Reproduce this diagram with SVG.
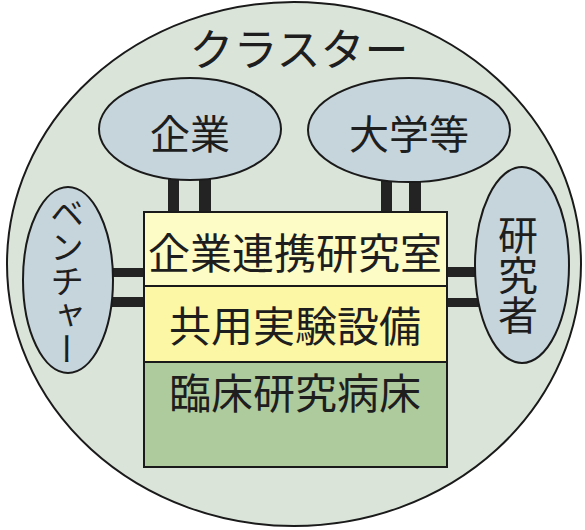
<svg xmlns="http://www.w3.org/2000/svg" width="585" height="530" viewBox="0 0 585 530">
<style>
.t{font-family:"Noto Sans CJK JP","Noto Sans CJK SC",sans-serif;fill:#1e1e1e;text-anchor:middle}
.ov{fill:#c6d5dc;stroke:#1a1a1a;stroke-width:2}
.bar{fill:#232323}
.row{stroke:#1a1a1a;stroke-width:2}
.v{writing-mode:vertical-rl}
</style>
<rect width="585" height="530" fill="#ffffff"/>
<g id="cluster">
<ellipse cx="294" cy="264" rx="287" ry="262" fill="#dae4d9" stroke="#1a1a1a" stroke-width="2"/>
<text class="t" x="299" y="66" font-size="44">クラスター</text>
</g>
<g id="connectors">
<rect class="bar" x="168" y="172" width="11" height="42"/>
<rect class="bar" x="199" y="172" width="12" height="42"/>
<rect class="bar" x="381" y="172" width="11" height="42"/>
<rect class="bar" x="409" y="172" width="12" height="42"/>
<rect class="bar" x="100" y="268" width="46" height="9"/>
<rect class="bar" x="100" y="297" width="46" height="10"/>
<rect class="bar" x="445" y="267" width="42" height="10"/>
<rect class="bar" x="445" y="298" width="42" height="9"/>
</g>
<g id="kigyo">
<ellipse class="ov" cx="190" cy="129" rx="91" ry="51"/>
<text class="t" x="190" y="149" font-size="40">企業</text>
</g>
<g id="daigaku">
<ellipse class="ov" cx="409" cy="130" rx="101" ry="52"/>
<text class="t" x="409" y="149" font-size="40">大学等</text>
</g>
<g id="venture">
<ellipse class="ov" cx="68" cy="280" rx="45" ry="93"/>
<text class="t v" x="67" y="281" font-size="34">ベンチャー</text>
</g>
<g id="kenkyusha">
<ellipse class="ov" cx="522" cy="265" rx="47" ry="98"/>
<text class="t v" x="518" y="275" font-size="40">研究者</text>
</g>
<g id="box">
<rect class="row" x="144" y="212" width="303" height="74" fill="#fdfcc6"/>
<rect class="row" x="144" y="286" width="303" height="76" fill="#fbf7a5"/>
<rect class="row" x="144" y="362" width="303" height="105" fill="#aecb9d"/>
<text class="t" x="295" y="269" font-size="42">企業連携研究室</text>
<text class="t" x="295" y="342" font-size="42">共用実験設備</text>
<text class="t" x="295" y="409" font-size="42">臨床研究病床</text>
</g>
</svg>
